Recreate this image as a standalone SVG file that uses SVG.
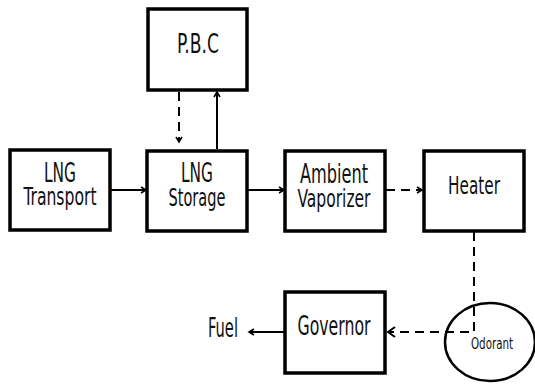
<svg xmlns="http://www.w3.org/2000/svg" width="535" height="384" viewBox="0 0 535 384">
<style>
.box{fill:#fff;stroke:#000;stroke-width:3.5}
.t{font-family:"DejaVu Sans Condensed","DejaVu Sans","Liberation Sans",sans-serif;font-size:25px;fill:#111;text-anchor:middle}
.b{font-size:26px}
.s{font-size:16px}
.ln{fill:none;stroke:#000;stroke-width:2}
.dash{stroke-dasharray:9,6}
</style>
<defs>
<marker id="ah" markerWidth="8" markerHeight="8" refX="6" refY="4" orient="auto" markerUnits="userSpaceOnUse">
<path d="M1,1 L6,4 L1,7" fill="none" stroke="#000" stroke-width="1.6"/>
</marker>
<marker id="ah2" markerWidth="10" markerHeight="12" refX="8" refY="6" orient="auto" markerUnits="userSpaceOnUse">
<path d="M1,1 L8,6 L1,11" fill="none" stroke="#000" stroke-width="2"/>
</marker>
</defs>
<g id="connectors">
<line class="ln" x1="110" y1="190" x2="146" y2="190" marker-end="url(#ah)"/>
<line class="ln" x1="247" y1="190" x2="284" y2="190" marker-end="url(#ah)"/>
<line class="ln dash" x1="386" y1="190" x2="422" y2="190" stroke-width="3" marker-end="url(#ah)"/>
<line class="ln dash" x1="179" y1="92" x2="179" y2="142" marker-end="url(#ah)"/>
<line class="ln" x1="217" y1="149" x2="217" y2="92" marker-end="url(#ah)"/>
<polyline class="ln dash" points="474,232 474,332 388,332" marker-end="url(#ah2)"/>
<line class="ln" x1="285" y1="332" x2="249" y2="332" stroke-width="2.5" marker-end="url(#ah)"/>
</g>
<g id="pbc"><rect class="box" x="148" y="9" width="99" height="81"/><text class="t b" x="198" y="53" textLength="42" lengthAdjust="spacingAndGlyphs">P.B.C</text></g>
<g id="lng-transport"><rect class="box" x="10" y="150" width="100" height="80"/><text class="t b" x="60" y="182" textLength="32" lengthAdjust="spacingAndGlyphs">LNG</text><text class="t" x="60" y="205" textLength="73" lengthAdjust="spacingAndGlyphs">Transport</text></g>
<g id="lng-storage"><rect class="box" x="147" y="151" width="100" height="80"/><text class="t b" x="197" y="182" textLength="32" lengthAdjust="spacingAndGlyphs">LNG</text><text class="t" x="197" y="206" textLength="57" lengthAdjust="spacingAndGlyphs">Storage</text></g>
<g id="ambient-vaporizer"><rect class="box" x="285" y="151" width="100" height="80"/><text class="t b" x="334" y="183" textLength="68" lengthAdjust="spacingAndGlyphs">Ambient</text><text class="t" x="334" y="207" textLength="73" lengthAdjust="spacingAndGlyphs">Vaporizer</text></g>
<g id="heater"><rect class="box" x="424" y="151" width="100" height="80"/><text class="t" x="474" y="194" textLength="52" lengthAdjust="spacingAndGlyphs">Heater</text></g>
<g id="governor"><rect class="box" x="285" y="292" width="100" height="81"/><text class="t b" x="334" y="335" textLength="73" lengthAdjust="spacingAndGlyphs">Governor</text></g>
<g id="odorant"><ellipse cx="490" cy="342" rx="45" ry="39" fill="none" stroke="#000" stroke-width="2.5"/><text class="t s" x="492" y="349" textLength="42" lengthAdjust="spacingAndGlyphs">Odorant</text></g>
<g id="fuel"><text class="t b" x="223" y="337" textLength="30" lengthAdjust="spacingAndGlyphs">Fuel</text></g>
</svg>
